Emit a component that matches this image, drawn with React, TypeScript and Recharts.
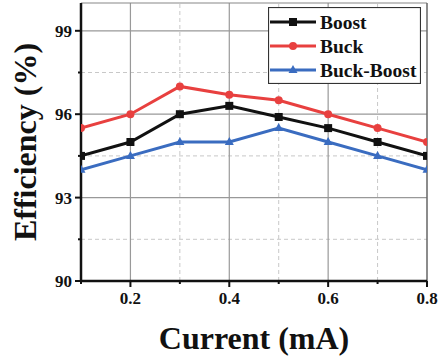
import React from 'react';
import { LineChart, Line, XAxis, YAxis, ReferenceLine, Legend, Label } from 'recharts';

const currents = [0.1, 0.2, 0.3, 0.4, 0.5, 0.6, 0.7, 0.8];
const boostEff = [94.5, 95.0, 96.0, 96.3, 95.9, 95.5, 95.0, 94.5];
const buckEff = [95.5, 96.0, 97.0, 96.7, 96.5, 96.0, 95.5, 95.0];
const buckBoostEff = [94.0, 94.5, 95.0, 95.0, 95.5, 95.0, 94.5, 94.0];

const xTicks = [0.1, 0.2, 0.3, 0.4, 0.5, 0.6, 0.7, 0.8];
const xMajor = [0.2, 0.4, 0.6, 0.8];
const yTicks = [90, 91.5, 93, 94.5, 96, 97.5, 99];
const yMajor = [90, 93, 96, 99];
const xGridMajor = [0.2, 0.4, 0.6];
const xGridMinor = [0.3, 0.5, 0.7];
const yGridMajor = [93, 96, 99];
const yGridMinor = [91.5, 94.5, 97.5];

const data = currents.map((x, i) => ({
  x,
  boost: boostEff[i],
  buck: buckEff[i],
  buckBoost: buckBoostEff[i],
}));

const BLACK = '#111111';
const RED = '#e8403f';
const BLUE = '#3a6cc0';
const FONT = 'Liberation Serif, DejaVu Serif, serif';

const isIn = (arr: number[], v: number) => arr.some((a) => Math.abs(a - v) < 1e-6);

const SquareDot = (props: any) => {
  const { cx, cy, index } = props;
  if (cx == null || cy == null) return <g key={`s${index}`} />;
  return <rect key={`s${index}`} x={cx - 4} y={cy - 4} width={8} height={8} fill={BLACK} />;
};
const CircleDot = (props: any) => {
  const { cx, cy, index } = props;
  if (cx == null || cy == null) return <g key={`c${index}`} />;
  return <circle key={`c${index}`} cx={cx} cy={cy} r={4} fill={RED} />;
};
const TriDot = (props: any) => {
  const { cx, cy, index } = props;
  if (cx == null || cy == null) return <g key={`t${index}`} />;
  return (
    <polygon
      key={`t${index}`}
      points={`${cx},${cy - 5} ${cx - 4.5},${cy + 3} ${cx + 4.5},${cy + 3}`}
      fill={BLUE}
    />
  );
};

const XTick = (props: any) => {
  const { x, y, payload } = props;
  const major = isIn(xMajor, payload.value);
  return (
    <g>
      <line x1={x} y1={y} x2={x} y2={y + (major ? 6 : 3)} stroke={BLACK} strokeWidth={2} />
      {major && (
        <text x={x} y={y + 23} textAnchor="middle" style={{ fontFamily: FONT }} fontWeight="bold" fontSize={17} fill={BLACK}>
          {payload.value.toFixed(1)}
        </text>
      )}
    </g>
  );
};

const YTick = (props: any) => {
  const { x, y, payload } = props;
  const major = isIn(yMajor, payload.value);
  return (
    <g>
      <line x1={x - (major ? 6 : 3)} y1={y} x2={x} y2={y} stroke={BLACK} strokeWidth={2} />
      {major && (
        <text x={x - 9} y={y + 6} textAnchor="end" style={{ fontFamily: FONT }} fontWeight="bold" fontSize={17} fill={BLACK}>
          {payload.value}
        </text>
      )}
    </g>
  );
};

const markerFor = (key: string, cx: number, cy: number) => {
  if (key === 'boost') return <rect x={cx - 4} y={cy - 4} width={8} height={8} fill={BLACK} />;
  if (key === 'buck') return <circle cx={cx} cy={cy} r={4} fill={RED} />;
  return <polygon points={`${cx},${cy - 5} ${cx - 4.5},${cy + 3} ${cx + 4.5},${cy + 3}`} fill={BLUE} />;
};

const LegendBox = (props: any) => {
  const payload = (props.payload || []) as any[];
  const order = ['boost', 'buck', 'buckBoost'];
  const items = order
    .map((k) => payload.find((p) => p.dataKey === k))
    .filter(Boolean);
  return (
    <svg width={153} height={77} style={{ display: 'block' }}>
      <rect x={0.5} y={0.5} width={152} height={76} fill="#ffffff" stroke="#333333" strokeWidth={1.2} />
      {items.map((it: any, i: number) => {
        const cy = 15 + i * 24;
        return (
          <g key={it.dataKey}>
            <line x1={2} y1={cy} x2={48} y2={cy} stroke={it.color} strokeWidth={3} />
            {markerFor(it.dataKey, 25, cy)}
            <text x={52} y={cy + 6.5} style={{ fontFamily: FONT }} fontWeight="bold" fontSize={19.5} fill={BLACK}>
              {it.value}
            </text>
          </g>
        );
      })}
    </svg>
  );
};

export default function App() {
  return (
    <div style={{ position: 'absolute', left: 0, top: 0, width: 440, height: 359, background: '#fff', fontFamily: FONT }}>
      <LineChart width={440} height={359} data={data} margin={{ top: 3, right: 13, left: 0, bottom: 0 }}>
        {xGridMinor.map((v) => (
          <ReferenceLine key={`xm${v}`} x={v} stroke="#c8c8c8" strokeDasharray="4 3" strokeWidth={1} />
        ))}
        {yGridMinor.map((v) => (
          <ReferenceLine key={`ym${v}`} y={v} stroke="#c8c8c8" strokeDasharray="4 3" strokeWidth={1} />
        ))}
        {xGridMajor.map((v) => (
          <ReferenceLine key={`xM${v}`} x={v} stroke="#999999" strokeWidth={1.2} />
        ))}
        {yGridMajor.map((v) => (
          <ReferenceLine key={`yM${v}`} y={v} stroke="#999999" strokeWidth={1.2} />
        ))}
        <ReferenceLine y={100} stroke="#888888" strokeWidth={1.2} />
        <ReferenceLine x={0.8} stroke="#666666" strokeWidth={1.5} />
        <XAxis
          dataKey="x"
          type="number"
          domain={[0.1, 0.8]}
          ticks={xTicks}
          tick={<XTick />}
          tickLine={false}
          tickSize={0}
          tickMargin={0}
          height={78}
          axisLine={{ stroke: BLACK, strokeWidth: 2.5 }}
          interval={0}
          allowDataOverflow
        >
          <Label
            value="Current (mA)"
            position="insideBottom"
            offset={10}
            style={{ fontFamily: FONT }}
            fontWeight="bold"
            fontSize={32}
            fill={BLACK}
          />
        </XAxis>
        <YAxis
          type="number"
          domain={[90, 100]}
          ticks={yTicks}
          tick={<YTick />}
          tickLine={false}
          tickSize={0}
          tickMargin={0}
          width={81}
          axisLine={{ stroke: BLACK, strokeWidth: 2.5 }}
          interval={0}
          allowDataOverflow
        >
          <Label
            value="Efficiency (%)"
            position="center"
            angle={-90}
            dx={-16}
            style={{ fontFamily: FONT }}
            fontWeight="bold"
            fontSize={32}
            fill={BLACK}
          />
        </YAxis>
        <Legend
          layout="vertical"
          align="center"
          verticalAlign="middle"
          content={<LegendBox />}
          wrapperStyle={{ left: 268, top: 7, width: 153, height: 77 }}
        />
        <Line
          dataKey="buckBoost"
          name="Buck-Boost"
          stroke={BLUE}
          strokeWidth={3}
          dot={TriDot}
          activeDot={false}
          isAnimationActive={false}
        />
        <Line
          dataKey="buck"
          name="Buck"
          stroke={RED}
          strokeWidth={3}
          dot={CircleDot}
          activeDot={false}
          isAnimationActive={false}
        />
        <Line
          dataKey="boost"
          name="Boost"
          stroke={BLACK}
          strokeWidth={3}
          dot={SquareDot}
          activeDot={false}
          isAnimationActive={false}
        />
      </LineChart>
    </div>
  );
}
